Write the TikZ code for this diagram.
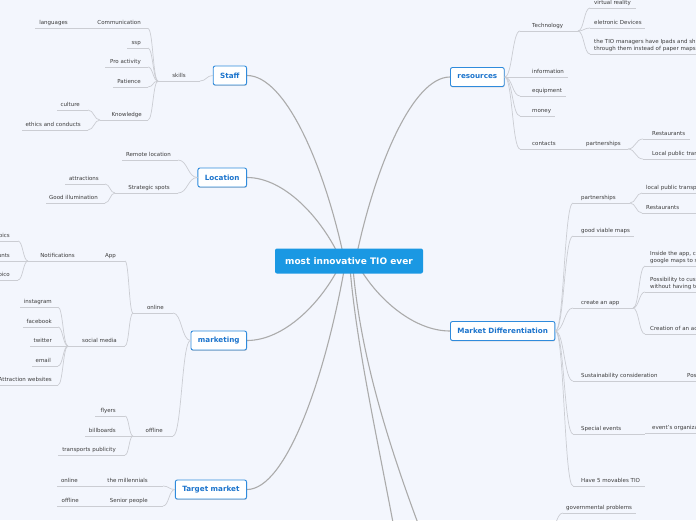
\documentclass[tikz,border=0pt]{standalone}
\usepackage{fontspec}
\setmainfont{DejaVu Sans}
\usetikzlibrary{calc,shadows}
\definecolor{bgc}{HTML}{F3F6FD}
\definecolor{rootc}{HTML}{1A98E3}
\definecolor{topicb}{HTML}{2F8BDC}
\definecolor{topict}{HTML}{1C74CC}
\definecolor{mainc}{HTML}{ABABAB}
\definecolor{subc}{HTML}{CBCDD3}
\definecolor{txt}{HTML}{3C3C3C}
\pgfdeclarelayer{back}
\pgfdeclarelayer{lines}
\pgfsetlayers{back,lines,main}
\newcommand\leafL[6]{\draw[ul] (#2,#4) coordinate (#1L) -- (#3,#4) coordinate (#1R); \node[lbl,anchor=base east] (#1) at (#5,#4-4) {#6};}
\newcommand\leafR[6]{\draw[ul] (#2,#4) coordinate (#1L) -- (#3,#4) coordinate (#1R); \node[lbl,anchor=base west] (#1) at (#5,#4-4) {#6};}
\newcommand\brk[2]{\draw[sub] let \p1=(#1), \p2=(#2) in (\p1) .. controls (0.5*\x1+0.5*\x2,\y1) and (0.5*\x1+0.5*\x2,\y2) .. (\p2);}
\newcommand\mainbr[2]{\begin{pgfonlayer}{lines}\draw[mainl] let \p1=(#1), \p2=(#2) in (\p1) .. controls (0.8*\x1+0.2*\x2,0.5*\y1+0.5*\y2) and (0.4*\x1+0.6*\x2,\y2) .. (\p2);\end{pgfonlayer}}
\begin{document}
\begin{tikzpicture}[x=1pt,y=-1pt,
  lbl/.style={font=\fontsize{5.5}{7}\selectfont, text=txt, inner sep=0pt},
  ul/.style={draw=subc, line width=0.7pt},
  sub/.style={draw=subc, line width=0.7pt},
  mainl/.style={draw=mainc, line width=1.1pt},
  topic/.style={draw=topicb, fill=white, line width=0.9pt, rounded corners=2pt, text=topict,
    font=\fontsize{7.2}{8.5}\selectfont\bfseries, minimum height=19pt, inner xsep=7pt,
    drop shadow={shadow xshift=0.3pt,shadow yshift=-0.9pt,opacity=0.3,fill=black!60}},
  root/.style={fill=rootc, text=white, rounded corners=2pt, font=\fontsize{9}{10}\selectfont\bfseries,
    minimum width=148pt, minimum height=25pt, inner sep=0pt}]
\begin{pgfonlayer}{back}
\fill[bgc] (0,0) rectangle (696,520);
\end{pgfonlayer}
\useasboundingbox (0,0) rectangle (696,520);

% central and topic nodes
\node[root] (root) at (349,261) {most innovative TIO ever};
\node[topic,anchor=east] (staff) at (247,75.5) {Staff};
\node[topic,anchor=east] (location) at (247,177.5) {Location};
\node[topic,anchor=east] (marketing) at (247,340.5) {marketing};
\node[topic,anchor=east] (target) at (247,489.5) {Target market};
\node[topic,anchor=west] (resources) at (450,77) {resources};
\node[topic,anchor=west] (md) at (450,331) {Market Differentiation};

% main connectors
\coordinate (rStaff) at (344,258);
\coordinate (rLoc) at (340,258);
\coordinate (rRes) at (356,258);
\coordinate (rMkt) at (340,265);
\coordinate (rTgt) at (345,265);
\coordinate (rB1) at (350,268);
\coordinate (rB2) at (353,268);
\coordinate (rMD) at (358,265);
\mainbr{rStaff}{staff.east}
\mainbr{rLoc}{location.east}
\mainbr{rRes}{resources.west}
\mainbr{rMkt}{marketing.east}
\mainbr{rTgt}{target.east}
\mainbr{rMD}{md.west}
\begin{pgfonlayer}{lines}
\coordinate (bot1) at (400,560);
\coordinate (bot2) at (432,560);
\draw[mainl] (rB1) .. controls (357,350) and (378,440) .. (bot1);
\draw[mainl] (rB2) .. controls (360,350) and (385,440) .. (bot2);
\end{pgfonlayer}

% Staff
\leafL{skills}{158}{200}{81}{186}{skills}
\leafL{comm}{95}{148}{28.5}{141}{Communication}
\leafL{lang}{35}{95}{28.5}{68}{languages}
\leafL{ssp}{127}{148}{48}{141}{ssp}
\leafL{proact}{105}{148}{67}{141}{Pro activity}
\leafL{patience}{113}{148}{87}{141}{Patience}
\leafL{knowledge}{100}{148}{120}{142}{Knowledge}
\leafL{culture}{57}{88}{110}{80}{culture}
\leafL{ethics}{22}{88}{130}{81}{ethics and conducts}
\brk{staff.west}{skillsR}
\brk{skillsL}{commR}
\brk{skillsL}{sspR}
\brk{skillsL}{proactR}
\brk{skillsL}{patienceR}
\brk{skillsL}{knowledgeR}
\brk{knowledgeL}{cultureR}
\brk{knowledgeL}{ethicsR}

% Location
\leafL{remote}{122}{178}{160}{171}{Remote location}
\leafL{strategic}{115}{178}{193}{170}{Strategic spots}
\leafL{attractions}{65}{105}{184}{99}{attractions}
\leafL{goodillum}{46}{105}{203}{98}{Good illumination}
\brk{location.west}{remoteR}
\brk{location.west}{strategicR}
\brk{strategicL}{attractionsR}
\brk{strategicL}{goodillumR}

% marketing
\leafL{online}{133}{173}{313}{164}{online}
\leafL{app}{80}{125}{261}{116}{App}
\leafL{notif}{28}{80}{261}{75}{Notifications}
\leafL{pics}{-5}{18}{241}{10}{pics}
\leafL{unts}{-5}{28}{261}{10}{unts}
\leafL{oico}{-5}{18}{280}{10}{oico}
\leafL{social}{68}{125}{346}{117}{social media}
\leafL{insta}{20}{58}{307}{52}{instagram}
\leafL{facebook}{23}{58}{327}{52}{facebook}
\leafL{twitter}{30}{58}{346}{52}{twitter}
\leafL{email}{32}{58}{366}{51}{email}
\leafL{attrweb}{-2}{58}{385}{52}{Attraction websites}
\leafL{offline}{133}{173}{436}{163}{offline}
\leafL{flyers}{95}{125}{416}{116}{flyers}
\leafL{billboards}{85}{125}{436}{116}{billboards}
\leafL{transports}{58}{125}{455}{116}{transports publicity}
\brk{marketing.west}{onlineR}
\brk{marketing.west}{offlineR}
\brk{onlineL}{appR}
\brk{onlineL}{socialR}
\brk{notifL}{picsR}
\brk{notifL}{oicoR}
\brk{socialL}{instaR}
\brk{socialL}{facebookR}
\brk{socialL}{twitterR}
\brk{socialL}{emailR}
\brk{socialL}{attrwebR}
\brk{offlineL}{flyersR}
\brk{offlineL}{billboardsR}
\brk{offlineL}{transportsR}

% Target market
\leafL{millennials}{100}{163}{486}{148}{the millennials}
\leafL{online2}{57}{100}{486}{78}{online}
\leafL{senior}{100}{163}{506}{148}{Senior people}
\leafL{offline2}{57}{100}{506}{79}{offline}
\brk{target.west}{millennialsR}
\brk{target.west}{seniorR}

% resources
\leafR{tech}{520}{578}{31}{532}{Technology}
\leafR{vr}{590}{636}{8}{594}{virtual reality}
\leafR{elec}{590}{645}{28}{594}{eletronic Devices}
\draw[ul] (590,54) coordinate (tioL) -- (700,54) coordinate (tioR);
\node[lbl,anchor=north west,align=left] (tio) at (594,38.8) {the TIO managers have Ipads and sh\\through them instead of paper maps};
\leafR{info}{520}{568}{77}{532}{information}
\leafR{equip}{520}{566}{96}{532}{equipment}
\leafR{money}{520}{555}{116}{532}{money}
\leafR{contacts}{520}{575}{149}{532}{contacts}
\leafR{rpart}{575}{628}{149}{586}{partnerships}
\leafR{rrest}{643}{690}{139}{652}{Restaurants}
\leafR{rlocal}{643}{700}{159}{652}{Local public tran}
\brk{resources.east}{techL}
\brk{resources.east}{infoL}
\brk{resources.east}{equipL}
\brk{resources.east}{moneyL}
\brk{resources.east}{contactsL}
\brk{techR}{vrL}
\brk{techR}{elecL}
\brk{techR}{tioL}
\brk{rpartR}{rrestL}
\brk{rpartR}{rlocalL}

% Market Differentiation
\leafR{mdpart}{573}{630}{203}{581}{partnerships}
\leafR{mlocal}{642}{700}{193}{646}{local public transp}
\leafR{mrest}{642}{700}{213}{646}{Restaurants}
\leafR{maps}{573}{634}{236}{581}{good viable maps}
\leafR{apptwo}{573}{633}{308}{581}{create an app}
\draw[ul] (645,266) coordinate (insideL) -- (700,266) coordinate (insideR);
\node[lbl,anchor=north west,align=left] (inside) at (650,250.8) {Inside the app, c\\google maps to s};
\draw[ul] (645,292) coordinate (possL) -- (700,292) coordinate (possR);
\node[lbl,anchor=north west,align=left] (poss) at (650,276.8) {Possibility to cust\\without having to};
\leafR{creation}{645}{700}{334}{650}{Creation of an ac}
\leafR{sustain}{573}{683}{381}{581}{Sustainability consideration}
\leafR{pos}{683}{700}{381}{687}{Pos}
\leafR{special}{573}{645}{434}{581}{Special events}
\leafR{event}{645}{700}{433}{652}{event's organiza}
\leafR{havefive}{573}{645}{486}{581}{Have 5 movables TIO}
\brk{md.east}{mdpartL}
\brk{md.east}{mapsL}
\brk{md.east}{apptwoL}
\brk{md.east}{sustainL}
\brk{md.east}{specialL}
\brk{md.east}{havefiveL}
\brk{mdpartR}{mlocalL}
\brk{mdpartR}{mrestL}
\brk{apptwoR}{insideL}
\brk{apptwoR}{possL}
\brk{apptwoR}{creationL}

% bottom branch
\leafR{gov}{563}{636}{513}{566}{governmental problems}
\coordinate (govP) at (548,535);
\brk{govP}{govL}
\end{tikzpicture}
\end{document}
